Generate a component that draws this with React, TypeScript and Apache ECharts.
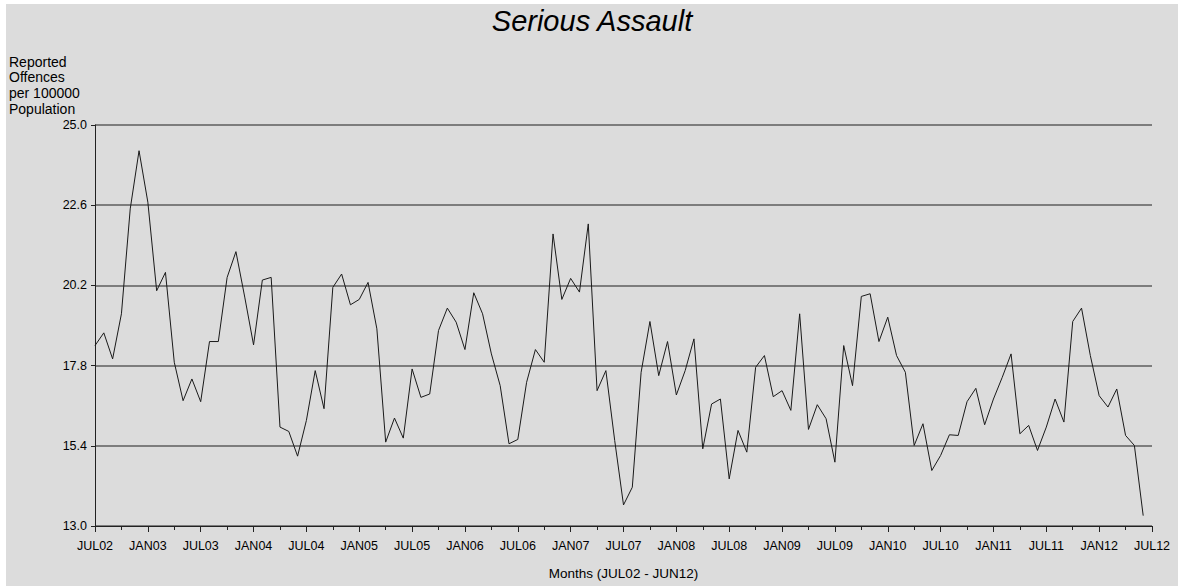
import React, { useEffect, useRef } from "react";
import * as echarts from "echarts";

// Monthly rate, JUL02 .. JUN12 (120 months)
const RATES: number[] = [
  18.40, 18.78, 18.00, 19.35, 22.49, 24.23, 22.69, 20.04, 20.59, 17.90, 16.75, 17.40,
  16.72, 18.52, 18.52, 20.44, 21.21, 19.85, 18.42, 20.36, 20.44, 15.96, 15.83, 15.09,
  16.16, 17.65, 16.51, 20.14, 20.54, 19.62, 19.78, 20.29, 18.90, 15.51, 16.23, 15.63,
  17.70, 16.85, 16.95, 18.85, 19.52, 19.10, 18.28, 19.98, 19.35, 18.15, 17.20, 15.46,
  15.59, 17.30, 18.28, 17.90, 21.74, 19.78, 20.41, 20.00, 22.04, 17.05, 17.65, 15.56,
  13.63, 14.16, 17.60, 19.12, 17.50, 18.52, 16.92, 17.65, 18.60, 15.31, 16.65, 16.80,
  14.41, 15.86, 15.21, 17.75, 18.10, 16.87, 17.05, 16.46, 19.35, 15.89, 16.63, 16.21,
  14.91, 18.40, 17.20, 19.87, 19.95, 18.52, 19.25, 18.10, 17.60, 15.41, 16.06, 14.66,
  15.11, 15.73, 15.71, 16.72, 17.12, 16.03, 16.80, 17.45, 18.15, 15.76, 16.01, 15.26,
  15.96, 16.80, 16.11, 19.12, 19.52, 18.10, 16.90, 16.56, 17.10, 15.71, 15.41, 13.31,
];

// Half-year tick labels (every 6 months)
const TICK_LABELS: string[] = [
  "JUL02", "JAN03", "JUL03", "JAN04", "JUL04", "JAN05", "JUL05", "JAN06", "JUL06", "JAN07",
  "JUL07", "JAN08", "JUL08", "JAN09", "JUL09", "JAN10", "JUL10", "JAN11", "JUL11", "JAN12", "JUL12",
];

const Y_MIN = 13.0;
const Y_MAX = 25.0;
const Y_STEP = 2.4;

const TITLE = "Serious Assault";
const Y_NAME = "Reported\nOffences\nper 100000\nPopulation";
const X_NAME = "Months (JUL02 - JUN12)";

const FONT = "'Liberation Sans', Arial, sans-serif";

export default function App() {
  const ref = useRef<HTMLDivElement>(null);

  useEffect(() => {
    if (!ref.current) return;
    const chart = echarts.init(ref.current, undefined, { renderer: "svg" });
    // y axis is offset by Y_MIN so that ticks fall on Y_MIN + k*Y_STEP
    const data = RATES.map((v, i) => [i, +(v - Y_MIN).toFixed(4)]);
    chart.setOption({
      animation: false,
      backgroundColor: "#dcdcdc",
      textStyle: { fontFamily: FONT },
      title: [
        {
          text: TITLE,
          left: "center",
          top: 2,
          padding: 0,
          textStyle: { fontFamily: FONT, fontSize: 29, fontStyle: "italic", fontWeight: "normal", color: "#000" },
        },
        {
          text: Y_NAME,
          left: 3,
          top: 50,
          padding: 0,
          textStyle: { fontFamily: FONT, fontSize: 14, fontWeight: "normal", color: "#000", lineHeight: 15.6 },
        },
      ],
      grid: { left: 89, top: 121, width: 1057, height: 401, containLabel: false },
      xAxis: {
        type: "value",
        min: 0,
        max: 120,
        interval: 6,
        name: X_NAME,
        nameLocation: "middle",
        nameGap: 40,
        nameTextStyle: { fontFamily: FONT, fontSize: 13.5, color: "#000" },
        axisLine: { show: true, onZero: false, lineStyle: { color: "#222", width: 1 } },
        axisTick: { show: true, length: 6, lineStyle: { color: "#222" } },
        minorTick: { show: true, splitNumber: 2, length: 4, lineStyle: { color: "#222" } },
        axisLabel: {
          color: "#000",
          fontSize: 12.5,
          margin: 13,
          formatter: (v: number) => TICK_LABELS[Math.round(v / 6)] ?? "",
        },
        splitLine: { show: false },
      },
      yAxis: {
        type: "value",
        min: 0,
        max: Y_MAX - Y_MIN,
        interval: Y_STEP,
        axisLine: { show: true, lineStyle: { color: "#222", width: 1 } },
        axisTick: { show: true, length: 4, lineStyle: { color: "#222" } },
        axisLabel: {
          color: "#000",
          fontSize: 12.5,
          margin: 8,
          formatter: (v: number) => (v + Y_MIN).toFixed(1),
        },
        splitLine: { show: true, lineStyle: { color: "#5e5e5e", width: 1.6 } },
      },
      series: [
        {
          type: "line",
          data,
          showSymbol: false,
          symbol: "none",
          lineStyle: { color: "#1a1a1a", width: 1 },
        },
      ],
    });
    return () => chart.dispose();
  }, []);

  return (
    <div style={{ position: "fixed", left: 0, top: 0, width: 1178, height: 586, background: "#fff" }}>
      <div ref={ref} style={{ position: "absolute", left: 6, top: 4, width: 1172, height: 582 }} />
    </div>
  );
}
